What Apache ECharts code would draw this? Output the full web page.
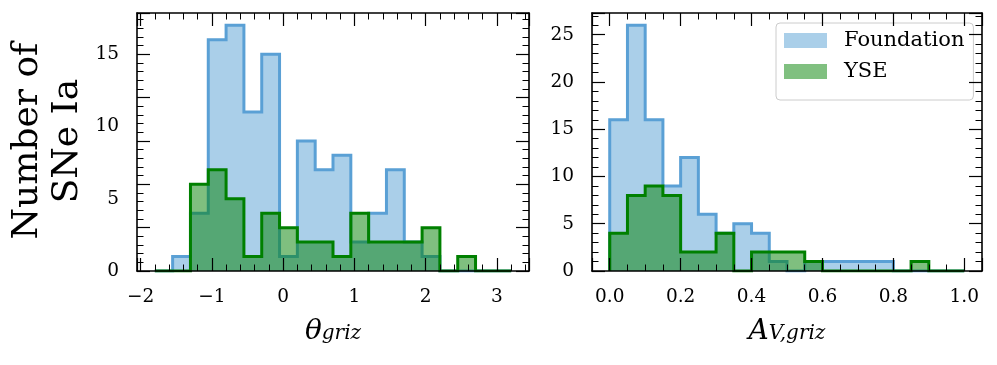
<!DOCTYPE html>
<html>
<head>
<meta charset="utf-8">
<script src="https://cdn.jsdelivr.net/npm/echarts@6/dist/echarts.min.js"></script>
<style>html,body{margin:0;padding:0;background:#fff}#chart{width:997px;height:365px}</style>
</head>
<body>
<div id="chart"></div>
<script>
// ---- histogram data (counts per bin) ----
var thetaEdges = [-1.8,-1.55,-1.3,-1.05,-0.8,-0.55,-0.3,-0.05,0.2,0.45,0.7,0.95,1.2,1.45,1.7,1.95,2.2,2.45,2.7,2.95,3.2];
var thetaFoundation = [0,1,4,16,17,11,15,1,9,7,8,2,4,7,2,1,0,0,0,0];
var thetaYSE = [0,0,6,7,5,1,4,3,2,2,1,4,2,2,2,3,0,1,0,0];

var avEdges = [0,0.05,0.1,0.15,0.2,0.25,0.3,0.35,0.4,0.45,0.5,0.55,0.6,0.65,0.7,0.75,0.8,0.85,0.9,0.95,1.0];
var avFoundation = [16,26,16,9,12,6,4,5,4,1,0,1,1,1,1,1,0,0,0,0];
var avYSE = [4,8,9,8,2,2,4,0,2,2,2,1,0,0,0,0,0,1,0,0];

// ---- tick labels ----
var thetaTicks = [-2,-1,0,1,2,3];
var avTicks = [0,0.2,0.4,0.6,0.8,1.0];
var countTicksL = [0,5,10,15];
var countTicksR = [0,5,10,15,20,25];

var FONT = 'DejaVu Serif';
var fndLine = '#5aa0d5', fndFill = 'rgba(85,160,212,0.5)';
var yseLine = '#008000', yseFill = 'rgba(0,128,0,0.5)';

// outline of a step histogram: up at first edge, across each bin, down at the last
function stepData(edges, counts) {
  var pts = [[edges[0], 0]];
  for (var i = 0; i < counts.length; i++) {
    pts.push([edges[i], counts[i]]);
    pts.push([edges[i + 1], counts[i]]);
  }
  pts.push([edges[edges.length - 1], 0]);
  return pts;
}

function axis(grid, pos, min, max, minorSplit, labels, fmt) {
  return {
    type: 'value', gridIndex: grid, position: pos, min: min, max: max, z: 10,
    axisLine: {show: true, onZero: false, lineStyle: {color: '#000', width: 1.6}},
    axisTick: {show: true, inside: true, length: 13, lineStyle: {color: '#000', width: 1.2}},
    minorTick: {show: true, splitNumber: minorSplit, length: 6.5, lineStyle: {color: '#000', width: 1}},
    splitLine: {show: false},
    axisLabel: labels ? {
      show: true, customValues: labels, formatter: fmt, margin: 17,
      color: '#000', fontFamily: FONT, fontSize: 18.5
    } : {show: false}
  };
}

var fmtTheta = function (v) { return v < 0 ? '\u2212' + (-v) : String(v); };
var fmtAv = function (v) { return v.toFixed(1); };
var fmtInt = function (v) { return String(v); };

var nameStyle = {rich: {
  m: {fontFamily: FONT, fontStyle: 'italic', fontSize: 28, lineHeight: 36, color: '#000'},
  s: {fontFamily: FONT, fontStyle: 'italic', fontSize: 20, lineHeight: 36, padding: [3, 0, 0, 0], color: '#000'}
}};

var xL = axis(0, 'bottom', -2.05, 3.45, 5, thetaTicks, fmtTheta);
xL.name = '{m|\u03b8}{s|griz}';
xL.nameLocation = 'middle';
xL.nameGap = 43;
xL.nameTextStyle = nameStyle;
var xR = axis(1, 'bottom', -0.05, 1.05, 4, avTicks, fmtAv);
xR.name = '{m|A}{s|V,griz}';
xR.nameLocation = 'middle';
xR.nameGap = 43;
xR.nameTextStyle = nameStyle;

var yL = axis(0, 'left', 0, 17.85, 5, countTicksL, fmtInt);
var yR = axis(1, 'left', 0, 27.3, 5, countTicksR, fmtInt);
yL.axisLabel.margin = 18;
yR.axisLabel.margin = 18;

var option = {
  animation: false,
  backgroundColor: '#fff',
  grid: [
    {left: 137, top: 13, width: 392, height: 258},
    {left: 592, top: 13, width: 390, height: 258}
  ],
  xAxis: [
    xL, axis(0, 'top', -2.05, 3.45, 5, null),
    xR, axis(1, 'top', -0.05, 1.05, 4, null)
  ],
  yAxis: [
    yL, axis(0, 'right', 0, 17.85, 5, null),
    yR, axis(1, 'right', 0, 27.3, 5, null)
  ],
  legend: {
    left: 776, top: 23, orient: 'vertical',
    padding: [6.5, 9, 17.5, 8], itemGap: 9,
    itemWidth: 43, itemHeight: 15, icon: 'rect',
    backgroundColor: 'rgba(255,255,255,0.8)',
    borderColor: '#cccccc', borderWidth: 1, borderRadius: 4,
    textStyle: {fontFamily: FONT, fontSize: 21, color: '#000', lineHeight: 22, padding: [0, 0, 0, 12]},
    data: [
      {name: 'Foundation', itemStyle: {color: '#aacfe9', borderWidth: 0}},
      {name: 'YSE', itemStyle: {color: '#80c080', borderWidth: 0}}
    ]
  },
  graphic: [{
    type: 'text', x: 48, y: 141, rotation: Math.PI / 2,
    style: {text: 'Number of\nSNe Ia', fontFamily: FONT, fontSize: 36, lineHeight: 40,
      align: 'center', verticalAlign: 'middle', fill: '#000'}
  }],
  series: []
};

function hist(name, axisIdx, edges, counts, line, fill, z) {
  return {
    type: 'line', name: name, xAxisIndex: axisIdx, yAxisIndex: axisIdx,
    data: stepData(edges, counts), symbol: 'none', z: z, silent: true,
    itemStyle: {color: fill},
    lineStyle: {color: line, width: 3, join: 'miter'},
    areaStyle: {color: fill, origin: 0, opacity: 1}
  };
}

// left panel uses axes 0, right panel axes 2
option.series.push(hist('Foundation', 0, thetaEdges, thetaFoundation, fndLine, fndFill, 2));
option.series.push(hist('YSE', 0, thetaEdges, thetaYSE, yseLine, yseFill, 3));
option.series.push(hist('Foundation', 2, avEdges, avFoundation, fndLine, fndFill, 2));
option.series.push(hist('YSE', 2, avEdges, avYSE, yseLine, yseFill, 3));

echarts.init(document.getElementById('chart')).setOption(option);
</script>
</body>
</html>
